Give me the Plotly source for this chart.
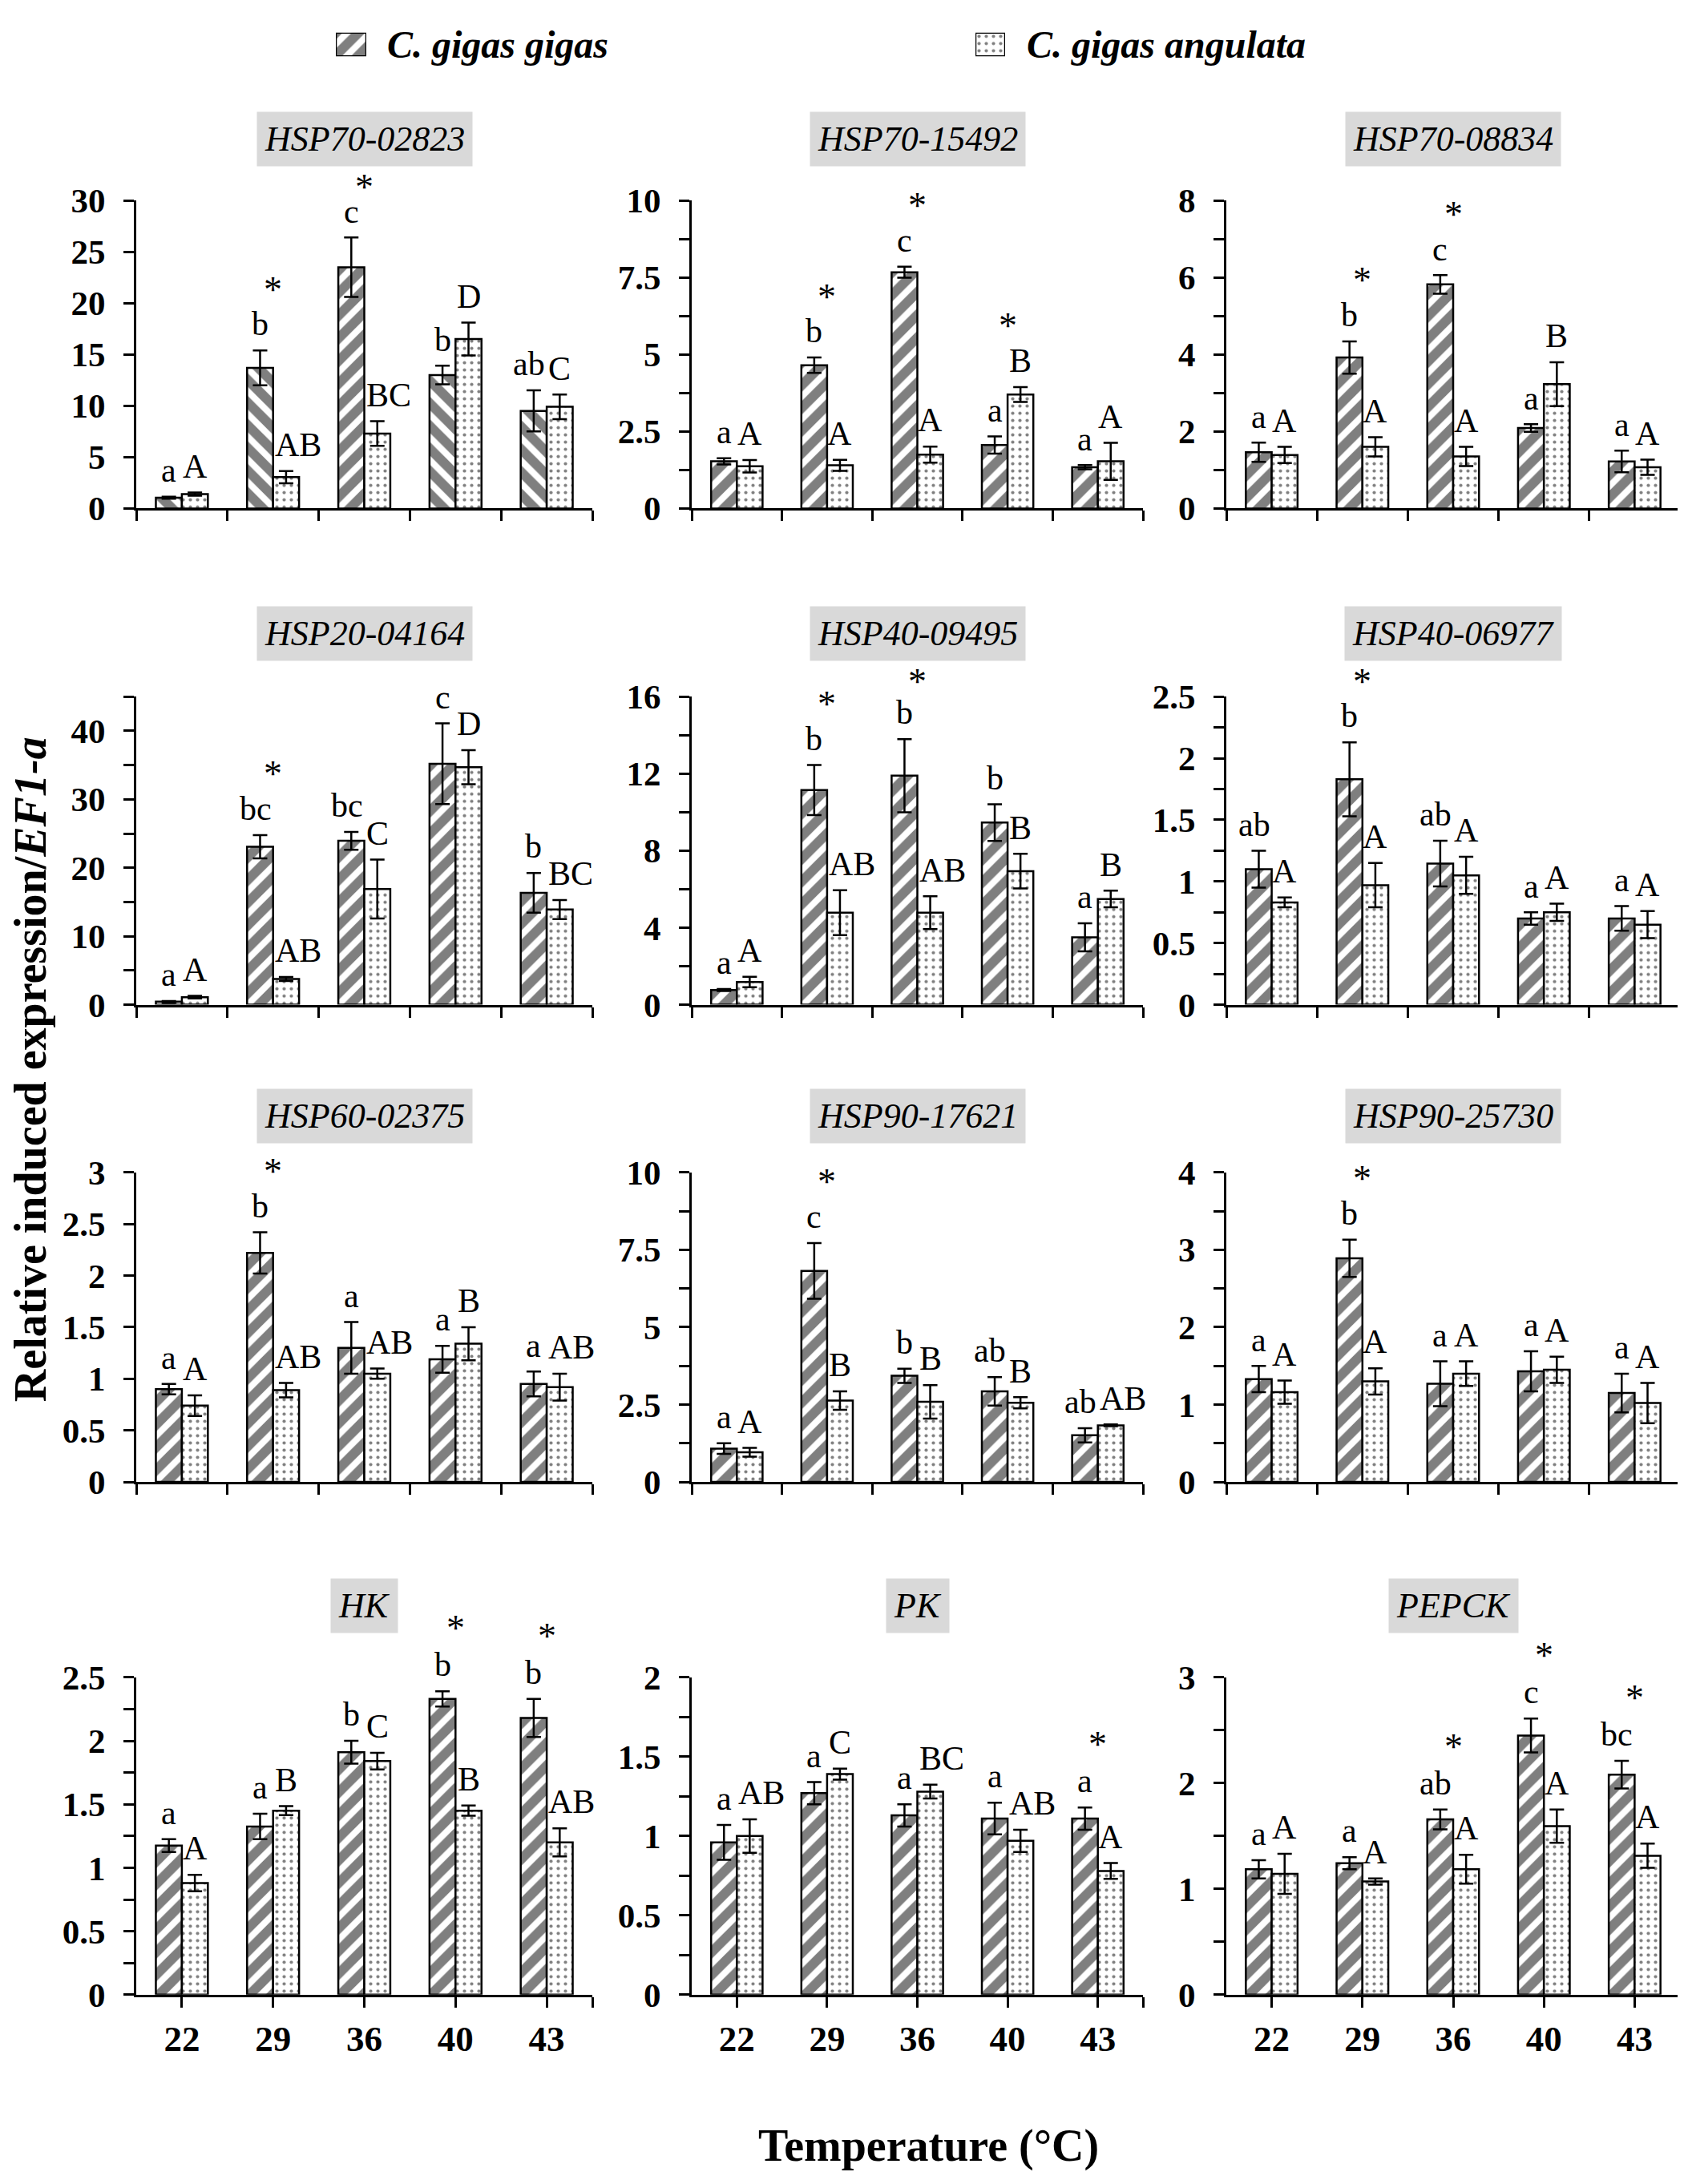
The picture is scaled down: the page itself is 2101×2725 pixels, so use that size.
import plotly.graph_objects as go

# Relative induced expression of stress genes in two oyster subspecies

W, H = 2101, 2725
FONT = "Liberation Serif"

temps = ["22", "29", "36", "40", "43"]

genes = ["HSP70-02823", "HSP70-15492", "HSP70-08834",
         "HSP20-04164", "HSP40-09495", "HSP40-06977",
         "HSP60-02375", "HSP90-17621", "HSP90-25730",
         "HK", "PK", "PEPCK"]

# C. gigas gigas, mean and SE per temperature
gigas_mean = [
    [1.05, 13.7, 23.5, 13.0, 9.5],
    [1.53, 4.65, 7.67, 2.06, 1.34],
    [1.46, 3.92, 5.82, 2.09, 1.22],
    [0.44, 23.07, 23.95, 35.2, 16.35],
    [0.76, 11.15, 11.9, 9.46, 3.5],
    [1.10, 1.83, 1.145, 0.70, 0.70],
    [0.90, 2.22, 1.30, 1.19, 0.95],
    [1.08, 6.82, 3.43, 2.93, 1.51],
    [1.33, 2.89, 1.27, 1.43, 1.15],
    [1.175, 1.325, 1.91, 2.33, 2.18],
    [0.96, 1.27, 1.13, 1.11, 1.11],
    [1.186, 1.243, 1.657, 2.45, 2.08],
]
gigas_se = [
    [0.1, 1.7, 2.9, 0.9, 2.0],
    [0.1, 0.25, 0.18, 0.28, 0.07],
    [0.25, 0.42, 0.24, 0.1, 0.28],
    [0.1, 1.7, 1.3, 5.9, 2.9],
    [0.05, 1.3, 1.9, 0.95, 0.73],
    [0.15, 0.3, 0.185, 0.05, 0.1],
    [0.05, 0.2, 0.25, 0.13, 0.12],
    [0.17, 0.9, 0.23, 0.46, 0.23],
    [0.17, 0.24, 0.29, 0.26, 0.25],
    [0.05, 0.1, 0.09, 0.06, 0.15],
    [0.11, 0.07, 0.07, 0.1, 0.07],
    [0.086, 0.057, 0.094, 0.16, 0.13],
]

# C. gigas angulata, mean and SE per temperature
angulata_mean = [
    [1.4, 3.05, 7.3, 16.5, 9.9],
    [1.37, 1.4, 1.75, 3.7, 1.53],
    [1.39, 1.6, 1.35, 3.23, 1.07],
    [1.1, 3.76, 16.9, 34.7, 13.9],
    [1.18, 4.78, 4.78, 6.94, 5.49],
    [0.83, 0.97, 1.05, 0.75, 0.65],
    [0.74, 0.89, 1.05, 1.34, 0.92],
    [0.96, 2.63, 2.59, 2.56, 1.83],
    [1.16, 1.30, 1.40, 1.45, 1.02],
    [0.88, 1.45, 1.84, 1.45, 1.2],
    [1.0, 1.39, 1.28, 0.97, 0.78],
    [1.143, 1.07, 1.186, 1.594, 1.314],
]
angulata_se = [
    [0.15, 0.6, 1.2, 1.6, 1.2],
    [0.2, 0.18, 0.26, 0.24, 0.6],
    [0.21, 0.25, 0.25, 0.57, 0.2],
    [0.2, 0.3, 4.3, 2.5, 1.4],
    [0.27, 1.17, 0.85, 0.9, 0.43],
    [0.04, 0.18, 0.15, 0.07, 0.11],
    [0.1, 0.07, 0.05, 0.16, 0.13],
    [0.14, 0.3, 0.54, 0.18, 0.03],
    [0.15, 0.17, 0.16, 0.17, 0.26],
    [0.065, 0.035, 0.066, 0.04, 0.11],
    [0.105, 0.035, 0.044, 0.07, 0.05],
    [0.19, 0.03, 0.137, 0.157, 0.114],
]

gigas_letters = [
    ["a", "b", "c", "b", "ab"], ["a", "b", "c", "a", "a"], ["a", "b", "c", "a", "a"],
    ["a", "bc", "bc", "c", "b"], ["a", "b", "b", "b", "a"], ["ab", "b", "ab", "a", "a"],
    ["a", "b", "a", "a", "a"], ["a", "c", "b", "ab", "ab"], ["a", "b", "a", "a", "a"],
    ["a", "a", "b", "b", "b"], ["a", "a", "a", "a", "a"], ["a", "a", "ab", "c", "bc"],
]
angulata_letters = [
    ["A", "AB", "BC", "D", "C"], ["A", "A", "A", "B", "A"], ["A", "A", "A", "B", "A"],
    ["A", "AB", "C", "D", "BC"], ["A", "AB", "AB", "B", "B"], ["A", "A", "A", "A", "A"],
    ["A", "AB", "AB", "B", "AB"], ["A", "B", "B", "B", "AB"], ["A", "A", "A", "A", "A"],
    ["A", "B", "C", "B", "AB"], ["AB", "C", "BC", "AB", "A"], ["A", "A", "A", "A", "A"],
]

# temperatures (index) with a significant difference between subspecies
star_at = [[1, 2], [1, 2, 3], [1, 2], [1], [1, 2], [1],
           [1], [1], [1], [3, 4], [4], [2, 3, 4]]

y_top = [30, 10, 8, 45, 16, 2.5, 3, 10, 4, 2.5, 2, 3]
y_step = [5, 2.5, 2, 10, 4, 0.5, 0.5, 2.5, 1, 0.5, 0.5, 1]
y_minor = [None, 1.25, 1, 5, 2, 0.25, None, 1.25, 0.5, 0.25, 0.25, 0.5]

# ---- layout (pixel boxes of the panels) ----
col_px = [(162, 731), (855, 1418), (1522, 2088)]
row_px = [(223, 614), (853, 1244), (1457, 1850), (2098, 2501)]
title_gap = [78, 80, 72, 91]
hatch = [["\\", "\\", "/", "\\", "\\"]] + [["/"] * 5 for _ in range(11)]

BARGAP = 0.43
bar_w = (1 - BARGAP) / 2
TITLE_SIZE = 44

stripe = dict(fgcolor="black", bgcolor="white", size=20, solidity=0.6)
dots = dict(shape=".", fgcolor="black", bgcolor="white", size=9, solidity=0.17)
outline = dict(color="black", width=2.5)
letter_font = dict(family=FONT, size=42, color="black")

fig = go.Figure()
for k, gene in enumerate(genes):
    r, c = divmod(k, 3)
    n = k + 1
    xa = "x" if n == 1 else f"x{n}"
    ya = "y" if n == 1 else f"y{n}"
    xs = list(range(len(temps)))
    R = y_top[k]

    fig.add_trace(go.Bar(
        x=xs, y=gigas_mean[k], xaxis=xa, yaxis=ya, offsetgroup="g",
        marker=dict(color="white", line=outline, pattern=dict(shape=hatch[k], **stripe)),
        error_y=dict(type="data", array=gigas_se[k], color="black", thickness=2.5, width=9),
        showlegend=False))
    fig.add_trace(go.Bar(
        x=xs, y=angulata_mean[k], xaxis=xa, yaxis=ya, offsetgroup="a",
        marker=dict(color="white", line=outline, pattern=dots),
        error_y=dict(type="data", array=angulata_se[k], color="black", thickness=2.5, width=9),
        showlegend=False))

    x0, x1 = col_px[c]
    top, bot = row_px[r]
    if r == 3:
        tv, tt = xs + [4.5], temps + [""]
    else:
        tv, tt = [i - 0.5 for i in range(6)], [""] * 6
    fig.layout["xaxis" if n == 1 else f"xaxis{n}"] = dict(
        domain=[x0 / W, x1 / W], anchor=ya, range=[-0.5, 4.5],
        showline=True, linecolor="black", linewidth=3, showgrid=False, zeroline=False,
        ticks="outside", ticklen=13, tickwidth=2.5, tickcolor="black",
        tickvals=tv, ticktext=tt,
        tickfont=dict(family=FONT, size=45, color="black", weight="bold"))
    yax = dict(
        domain=[1 - bot / H, 1 - top / H], anchor=xa, range=[0, R],
        tick0=0, dtick=y_step[k],
        showline=True, linecolor="black", linewidth=3, showgrid=False, zeroline=False,
        ticks="outside", ticklen=13, tickwidth=2.5, tickcolor="black", ticklabelstandoff=14,
        tickfont=dict(family=FONT, size=43, color="black", weight="bold"))
    if y_minor[k]:
        yax["minor"] = dict(dtick=y_minor[k], tick0=0, ticks="outside", ticklen=13,
                            tickwidth=2.5, tickcolor="black")
    fig.layout["yaxis" if n == 1 else f"yaxis{n}"] = yax

    # gene title in grey box
    xc = (x0 + x1) / 2
    fig.add_annotation(x=xc / W, y=1 - (top - title_gap[r]) / H,
                       xref="paper", yref="paper", xanchor="center", yanchor="middle",
                       showarrow=False, text=f"<i>{gene}</i>",
                       bgcolor="#d9d9d9", borderpad=9,
                       font=dict(family=FONT, size=TITLE_SIZE, color="black"))
    half_box = len(gene) * 0.26 * TITLE_SIZE + 12

    # data position -> paper position (annotations above the axis range would be hidden)
    def xpix(xv, x0=x0, x1=x1):
        return x0 + (xv + 0.5) / 5 * (x1 - x0)

    def py(yv, top=top, bot=bot, ymax=R):
        return 1 - (bot - yv / ymax * (bot - top)) / H

    # significance letters above the error bars; two-letter groups lean outward
    pad = 0.02 * R
    for i in xs:
        g_cap = gigas_mean[k][i] + gigas_se[k][i]
        a_cap = angulata_mean[k][i] + angulata_se[k][i]
        gl, al = gigas_letters[k][i], angulata_letters[k][i]
        if len(gl) > 1:
            gx, gan = xpix(i), "right"
        else:
            gx, gan = xpix(i - bar_w / 2), "center"
        if len(al) > 1:
            ax_, aan = xpix(i), "left"
        else:
            ax_, aan = xpix(i + bar_w / 2), "center"
        fig.add_annotation(x=gx / W, y=py(g_cap + pad), xref="paper", yref="paper",
                           text=gl, showarrow=False,
                           xanchor=gan, yanchor="bottom", font=letter_font)
        fig.add_annotation(x=ax_ / W, y=py(a_cap + pad), xref="paper", yref="paper",
                           text=al, showarrow=False,
                           xanchor=aan, yanchor="bottom", font=letter_font)

    # asterisks over the pair; kept beneath the title box when they sit under it
    for i in star_at[k]:
        cap = max(gigas_mean[k][i] + gigas_se[k][i], angulata_mean[k][i] + angulata_se[k][i])
        glyph = cap + 0.22 * R
        sx = xpix(i)
        if abs(sx - xc) < half_box + 12:
            glyph = min(glyph, R * (1 + (title_gap[r] - 52) / (bot - top)))
        fig.add_annotation(x=sx / W, y=py(glyph - 0.022 * R), xref="paper", yref="paper",
                           text="*", showarrow=False, xanchor="center", yanchor="middle",
                           font=dict(family=FONT, size=46, color="black"))

# ---- legend swatches drawn as single bars on their own small axes ----
legend_items = [("C. gigas gigas", dict(shape="/", **stripe), (411, 449), 473),
                ("C. gigas angulata", dots, (1209, 1246), 1271)]
for j, (label, pat, (lx0, lx1), tx) in enumerate(legend_items):
    n = 13 + j
    fig.add_trace(go.Bar(x=[0], y=[1], width=[1], xaxis=f"x{n}", yaxis=f"y{n}",
                         marker=dict(color="white", line=outline, pattern=pat),
                         cliponaxis=False, showlegend=False))
    fig.layout[f"xaxis{n}"] = dict(domain=[lx0 / W, lx1 / W], range=[-0.5, 0.5],
                                   visible=False, anchor=f"y{n}")
    fig.layout[f"yaxis{n}"] = dict(domain=[1 - 40 / H, 1 - 10 / H], range=[0, 1],
                                   visible=False, anchor=f"x{n}")
    fig.add_annotation(x=tx / W, y=1 - 25 / H, xref="paper", yref="paper",
                       xanchor="left", yanchor="middle", showarrow=False,
                       text=f"<b><i>{label}</i></b>",
                       font=dict(family=FONT, size=48, color="black"))

# axis titles shared by all panels
fig.add_annotation(x=30 / W, y=1 - 1326 / H, xref="paper", yref="paper",
                   xanchor="center", yanchor="middle", showarrow=False, textangle=-90,
                   text="<b>Relative induced expression/<i>EF1-a</i></b>",
                   font=dict(family=FONT, size=56, color="black"))
fig.add_annotation(x=1150 / W, y=1 - 2693 / H, xref="paper", yref="paper",
                   xanchor="center", yanchor="middle", showarrow=False,
                   text="<b>Temperature (°C)</b>",
                   font=dict(family=FONT, size=56, color="black"))

fig.update_layout(barmode="group", bargap=BARGAP, bargroupgap=0,
                  width=W, height=H, margin=dict(l=0, r=0, t=0, b=0),
                  paper_bgcolor="white", plot_bgcolor="white", showlegend=False)

fig.write_html("out.html")
